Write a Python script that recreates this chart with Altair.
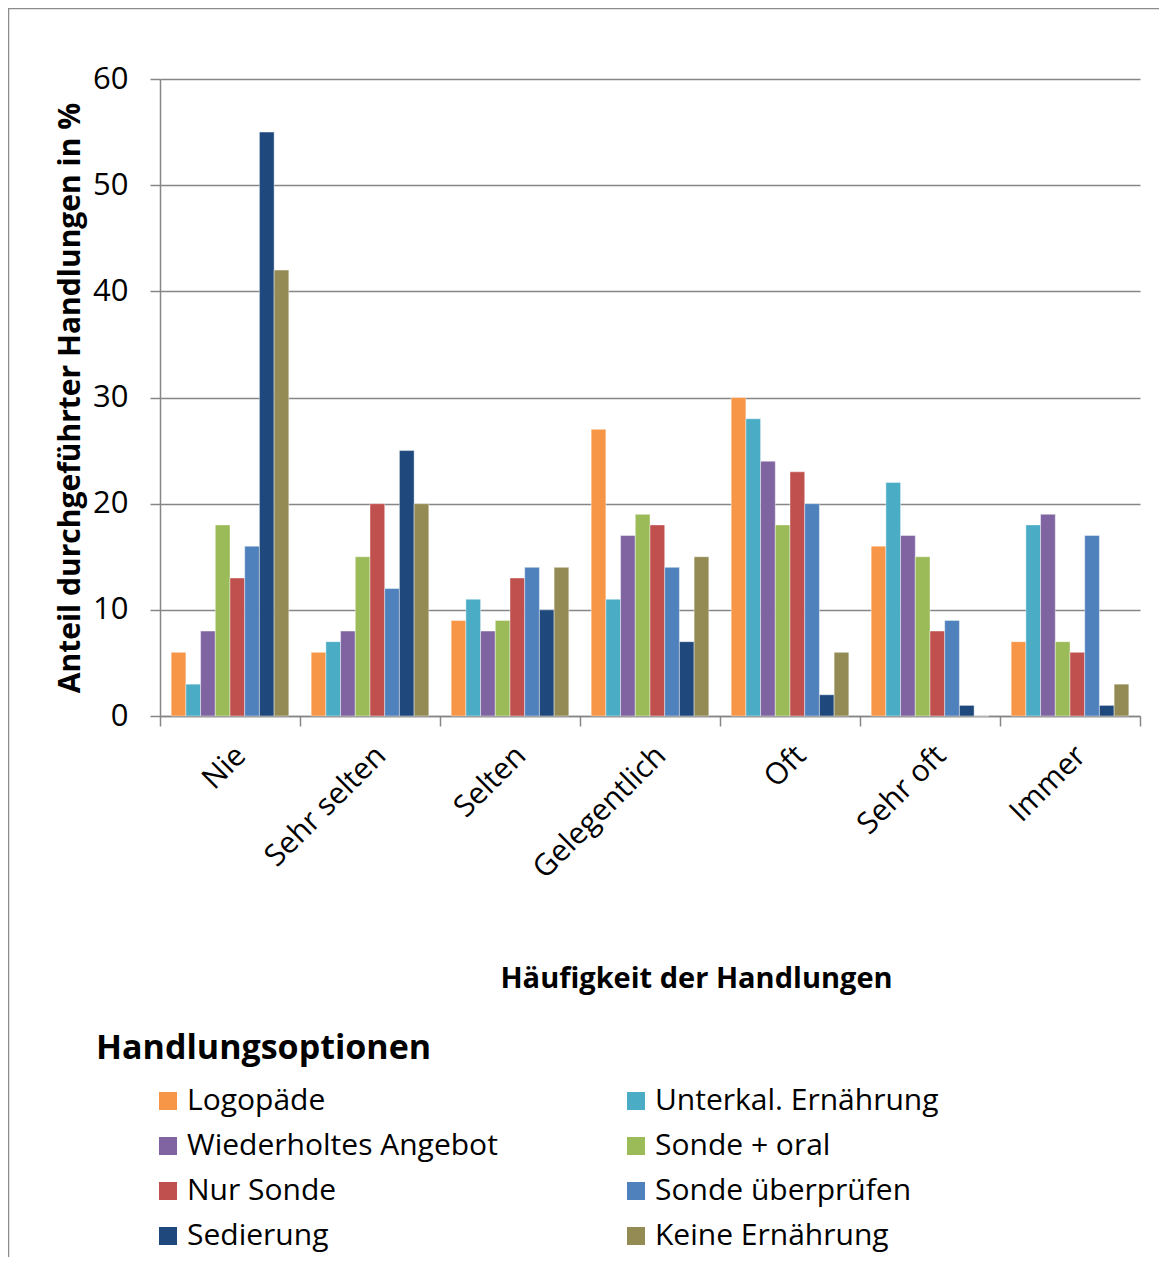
import altair as alt
import pandas as pd

categories = ["Nie", "Sehr selten", "Selten", "Gelegentlich", "Oft", "Sehr oft", "Immer"]
series = ["Logopäde", "Unterkal. Ernährung", "Wiederholtes Angebot", "Sonde + oral",
          "Nur Sonde", "Sonde überprüfen", "Sedierung", "Keine Ernährung"]
colors = ["#F79646", "#4BACC6", "#8064A2", "#9BBB59", "#C0504D", "#4F81BD", "#1F497D", "#948A54"]

logopaede = [6, 6, 9, 27, 30, 16, 7]
unterkal = [3, 7, 11, 11, 28, 22, 18]
wiederholt = [8, 8, 8, 17, 24, 17, 19]
sonde_oral = [18, 15, 9, 19, 18, 15, 7]
nur_sonde = [13, 20, 13, 18, 23, 8, 6]
sonde_pruefen = [16, 12, 14, 14, 20, 9, 17]
sedierung = [55, 25, 10, 7, 2, 1, 1]
keine = [42, 20, 14, 15, 6, 0, 3]

values = [logopaede, unterkal, wiederholt, sonde_oral, nur_sonde, sonde_pruefen, sedierung, keine]
rows = []
for s, vals in zip(series, values):
    for c, v in zip(categories, vals):
        rows.append({"Kategorie": c, "Option": s, "Wert": v})
df = pd.DataFrame(rows)

FONT = "Open Sans"
GRID = "#868686"

bars = alt.Chart(df).mark_bar(stroke="white", strokeWidth=0.6, strokeOpacity=0.7).encode(
    x=alt.X("Kategorie:N", sort=categories,
            scale=alt.Scale(paddingInner=0, paddingOuter=0),
            axis=alt.Axis(title="Häufigkeit der Handlungen", labelAngle=-45,
                          labelFontSize=30, labelFont=FONT, labelColor="black",
                          labelPadding=14, tickBand="extent", tickSize=10,
                          tickColor=GRID, tickWidth=1.5, domainColor=GRID, domainWidth=1.5,
                          titleFontSize=29, titleFont=FONT, titleFontWeight="bold",
                          titleColor="black", titleX=536, titleY=262,
                          titleAnchor="middle", titleBaseline="middle", grid=False)),
    xOffset=alt.XOffset("Option:N", sort=series,
                        scale=alt.Scale(paddingInner=0, paddingOuter=0.76)),
    y=alt.Y("Wert:Q", scale=alt.Scale(domain=[0, 60]),
            axis=alt.Axis(title="Anteil  durchgeführter Handlungen in %", values=[0, 10, 20, 30, 40, 50, 60],
                          labelFontSize=31, labelFont=FONT, labelColor="black",
                          labelPadding=22, tickSize=10, tickColor=GRID, tickWidth=1.5,
                          domainColor=GRID, domainWidth=1.5, gridColor=GRID, gridWidth=1.5,
                          titleFontSize=30, titleFont=FONT, titleFontWeight="bold",
                          titleColor="black", titlePadding=7)),
    color=alt.Color("Option:N", sort=series,
                    scale=alt.Scale(domain=series, range=colors),
                    legend=alt.Legend(title="Handlungsoptionen", orient="none",
                                      legendX=-64, legendY=953, columns=2,
                                      direction="horizontal",
                                      symbolType="square", symbolSize=324,
                                      symbolStrokeWidth=0, symbolOffset=57,
                                      labelOffset=4, labelFontSize=30, labelFont=FONT,
                                      labelColor="black", labelLimit=500,
                                      titleFontSize=34, titleFont=FONT, titleFontWeight="bold",
                                      titleColor="black", titlePadding=20, titleLimit=600,
                                      rowPadding=15, columnPadding=66)),
)

frame = alt.Chart(pd.DataFrame({"a": [0]})).mark_rect(
    fill=None, stroke="#8c8c8c", strokeWidth=1.5, clip=False
).encode(
    x=alt.value(-151.5), x2=alt.value(1100), y=alt.value(-70.5), y2=alt.value(1300)
)

chart = alt.layer(bars, frame).properties(
    width=980, height=637,
    autosize=alt.AutoSizeParams(type="none"),
    padding={"left": 152, "top": 71, "right": 19, "bottom": 541},
).configure_view(stroke=None)

chart.save("out.html", embed_options={"renderer": "svg", "actions": False})
